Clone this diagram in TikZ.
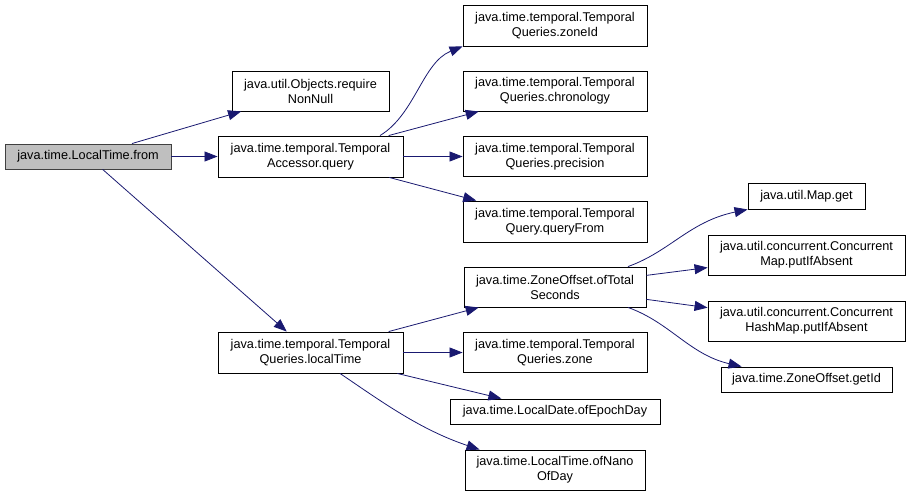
\documentclass[tikz,border=0pt]{standalone}
\usepackage{fontspec}
\setmainfont{Liberation Sans}
\definecolor{edgeblue}{RGB}{25, 25, 112}
\definecolor{rootgray}{RGB}{191, 191, 191}
\usetikzlibrary{arrows.meta}
\tikzset{
	fn/.style={rectangle, draw=black, fill=white, line width=0.9pt, align=center, inner sep=0pt, minimum height=40pt, font=\fontsize{12.7}{15}\selectfont},
	fnone/.style={fn, minimum height=25pt},
	root/.style={fnone, fill=rootgray, draw=black!75},
	call/.style={-{Triangle[length=13pt, width=10pt]}, line width=0.8pt, draw=edgeblue},
}

\begin{document}
\begin{tikzpicture}[x=1pt, y=-1pt]
		\useasboundingbox (0,0) rectangle (911,496);
		\node[root, minimum width=166pt] (from) at (88,156.5) {java.time.LocalTime.from};
		\node[fn, minimum width=157pt] (requirenn) at (310.5,91) {java.util.Objects.require\\NonNull};
		\node[fn, minimum width=185pt, minimum height=41pt] (query) at (310.5,156.5) {java.time.temporal.Temporal\\Accessor.query};
		\node[fn, minimum width=185pt, minimum height=41pt] (localtime) at (310.5,352.5) {java.time.temporal.Temporal\\Queries.localTime};
		\node[fn, minimum width=184pt, minimum height=41pt] (zoneid) at (555,25.5) {java.time.temporal.Temporal\\Queries.zoneId};
		\node[fn, minimum width=184pt] (chronology) at (555,91) {java.time.temporal.Temporal\\Queries.chronology};
		\node[fn, minimum width=184pt] (precision) at (555,156.5) {java.time.temporal.Temporal\\Queries.precision};
		\node[fn, minimum width=184pt, minimum height=41pt] (queryfrom) at (555,221.5) {java.time.temporal.Temporal\\Query.queryFrom};
		\node[fn, minimum width=182pt] (totalsec) at (555,287) {java.time.ZoneOffset.ofTotal\\Seconds};
		\node[fn, minimum width=184pt] (zone) at (555,352.5) {java.time.temporal.Temporal\\Queries.zone};
		\node[fnone, minimum width=210pt] (epochday) at (555,411.5) {java.time.LocalDate.ofEpochDay};
		\node[fn, minimum width=180pt] (nanoofday) at (555,470) {java.time.LocalTime.ofNano\\OfDay};
		\node[fnone, minimum width=117pt, minimum height=26pt] (mapget) at (806.5,196) {java.util.Map.get};
		\node[fn, minimum width=197pt] (cmapput) at (806.5,255) {java.util.concurrent.Concurrent\\Map.putIfAbsent};
		\node[fn, minimum width=197pt] (chmapput) at (806.5,321) {java.util.concurrent.Concurrent\\HashMap.putIfAbsent};
		\node[fnone, minimum width=171pt] (getid) at (806.5,379.5) {java.time.ZoneOffset.getId};
		% calls out of LocalTime.from
		\draw[call] (from) -- (requirenn);
		\draw[call] (from) -- (query);
		\draw[call] (from) -- (localtime);
		% calls out of TemporalAccessor.query
		\draw[call] ([xshift=69.5pt]query.north) .. controls +(35,-21) and +(-40,16) .. (zoneid.south west);
		\draw[call] (query) -- (chronology);
		\draw[call] (query) -- (precision);
		\draw[call] (query) -- (queryfrom);
		% calls out of TemporalQueries.localTime
		\draw[call] (localtime) -- (totalsec);
		\draw[call] (localtime) -- (zone);
		\draw[call] (localtime) -- (epochday);
		\draw[call] ([xshift=29.5pt]localtime.south) .. controls +(40,27) and +(-60,-20) .. ([xshift=15pt]nanoofday.north west);
		% calls out of ZoneOffset.ofTotalSeconds
		\draw[call] ([xshift=73pt]totalsec.north) .. controls +(42,-15) and +(-58,12) .. (mapget.south west);
		\draw[call] (totalsec) -- (cmapput);
		\draw[call] (totalsec) -- (chmapput);
		\draw[call] ([xshift=73pt]totalsec.south) .. controls +(42,15) and +(-52,-12) .. ([xshift=21pt]getid.north west);
	\end{tikzpicture}
\end{document}
